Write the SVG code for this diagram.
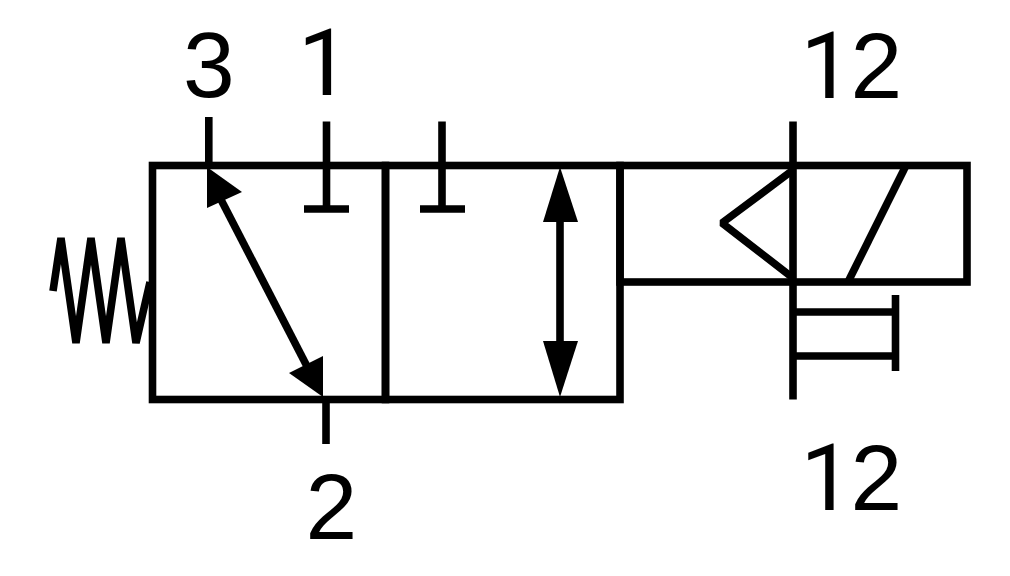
<svg xmlns="http://www.w3.org/2000/svg" width="1010" height="576" viewBox="0 0 1010 576">
<style>
.l{fill:none;stroke:#000;stroke-width:7.6;stroke-linecap:butt;stroke-linejoin:miter}
.t{stroke-linejoin:bevel}
.a{fill:#000;stroke:none}
text{font-family:"Liberation Sans",Arial,sans-serif;font-size:93px;fill:#000}
.r{font-family:Roboto,"Liberation Sans",sans-serif;font-size:93px}
</style>
<rect width="1010" height="576" fill="#fff"/>
<g id="valve-body" class="l">
<rect x="152.500" y="165.500" width="233" height="234"/>
<rect x="385.500" y="165.500" width="234.500" height="234"/>
<rect x="620" y="165.500" width="347" height="116.500"/>
</g>
<g id="connectors" class="l">
<path d="M208.800 117V165"/>
<path d="M326.500 121.500V209M304 209H349"/>
<path d="M442 121.500V209M420 209H465"/>
<path d="M326 399V444"/>
<path d="M793 121.500V399.500"/>
<path class="t" d="M793 170L722 223L793 278"/>
<path class="t" d="M906 165.500L848 282"/>
<path d="M793 312H896M793 356H896M895.500 295V371"/>
<path class="t" d="M53 291L61 238L76 343L91 238L106 343L121 238L136 343L150 282"/>
<path class="t" d="M216 190L312 376"/>
<path class="t" d="M560 190V376"/>
</g>
<g id="arrowheads" class="a">
<path d="M207 167L242 192L207 208Z"/>
<path d="M323 397L289 373L323 356Z"/>
<path d="M560 167L578 222H543Z"/>
<path d="M560 397L543 341H578Z"/>
</g>
<g id="labels">
<text x="183" y="97">3</text>
<text class="r" x="298" y="95">1</text>
<text x="305.500" y="539">2</text>
<text y="98"><tspan class="r" x="800.500">1</tspan><tspan x="850.500">2</tspan></text>
<text y="510"><tspan class="r" x="800.500">1</tspan><tspan x="850.500">2</tspan></text>
</g>
</svg>
